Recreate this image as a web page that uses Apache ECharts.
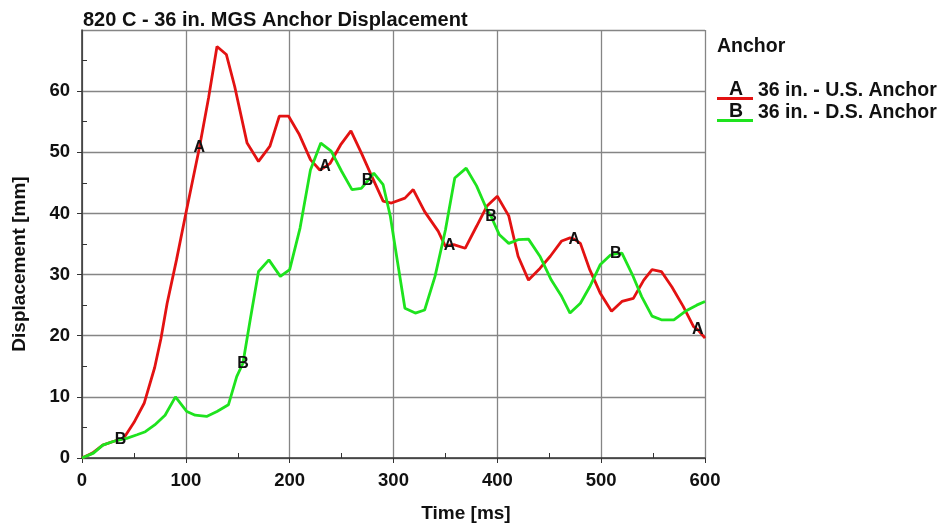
<!DOCTYPE html>
<html>
<head>
<meta charset="utf-8">
<script src="https://cdn.jsdelivr.net/npm/echarts@6/dist/echarts.min.js"></script>
<style>
  html, body { margin: 0; padding: 0; background: #fff; }
  #chart { width: 941px; height: 524px; }
</style>
</head>
<body>
<div id="chart"></div>
<script>
// Anchor displacement histories (time in ms, displacement in mm)
const timeA = [0, 10, 20, 30, 40, 50, 60, 70, 76, 82, 91, 100, 113, 122, 130, 139, 147, 159, 170, 181,
  190, 199, 209, 220, 229, 234, 239, 249, 259, 269, 279, 290, 298, 311, 319, 330, 343, 350, 354, 358,
  369, 380, 390, 400, 411, 420, 430, 441, 451, 462, 470, 474, 480, 489, 499, 510, 520, 531, 541, 549,
  558, 568, 579, 589, 593, 600];
const dispA = [0, 0.8, 2.1, 2.7, 3.2, 5.8, 9.0, 14.8, 19.5, 25.3, 32.4, 40.0, 50.7, 59.0, 67.3, 66.0, 60.8, 51.5, 48.5, 51.0,
  55.9, 55.9, 53.0, 48.8, 47.1, 47.6, 48.2, 51.2, 53.5, 49.9, 46.1, 42.0, 41.7, 42.5, 43.9, 40.3, 37.1, 34.6, 34.8, 34.9,
  34.3, 37.9, 41.2, 42.8, 39.6, 33.0, 29.1, 31.0, 33.0, 35.5, 36.0, 35.8, 35.1, 30.8, 27.0, 24.0, 25.6, 26.1, 29.1, 30.8,
  30.5, 28.0, 24.8, 21.5, 21.0, 19.6];

const timeB = [0, 11, 20, 30, 37, 43, 53, 61, 70, 80, 90, 101, 109, 120, 130, 141, 149, 155, 162, 170,
  180, 191, 200, 210, 220, 230, 240, 250, 260, 269, 275, 281, 290, 297, 303, 311, 321, 330, 340, 350,
  359, 370, 380, 390, 394, 402, 411, 420, 430, 441, 452, 462, 470, 480, 489, 499, 509, 514, 520, 530,
  539, 549, 558, 570, 581, 592, 600];
const dispB = [0, 0.8, 2.1, 2.7, 3.0, 3.2, 3.8, 4.3, 5.4, 7.0, 10.0, 7.6, 7.0, 6.8, 7.6, 8.7, 13.3, 15.5, 22.6, 30.5,
  32.4, 29.7, 30.8, 37.6, 47.1, 51.5, 50.2, 46.9, 43.9, 44.1, 45.3, 46.6, 44.7, 39.5, 33.0, 24.5, 23.7, 24.2, 29.7, 37.3,
  45.8, 47.4, 44.5, 40.6, 39.5, 36.5, 35.1, 35.7, 35.8, 33.0, 29.1, 26.4, 23.7, 25.3, 28.0, 31.6, 33.2, 33.4, 33.5, 30.0,
  26.4, 23.2, 22.6, 22.6, 24.0, 25.0, 25.6];

// Times at which the curve letters are placed
const letterTimesA = [113, 234, 354, 474, 593];
const letterTimesB = [37, 155, 275, 394, 514];

const seriesNames = ['36 in. - U.S. Anchor', '36 in. - D.S. Anchor'];
const seriesLetters = ['A', 'B'];
const seriesColors = ['#e31212', '#1ee31e'];

// Axis ranges
const X_MIN = 0, X_MAX = 600, X_STEP = 100;
const Y_MIN = 0, Y_MAX = 70, Y_STEP = 10;

const FONT = '"Liberation Sans", Arial, sans-serif';
const INK = '#111';
const AXIS_INK = '#333';
const GRID_INK = '#858585';

function pairs(t, v) { return t.map((x, i) => [x, v[i]]); }
function letterPoints(times, t, v, letter) {
  return times.map(x => ({ coord: [x, v[t.indexOf(x)]], value: letter }));
}
function letterMarks(points) {
  return {
    silent: true,
    symbol: 'circle',
    symbolSize: 1,
    itemStyle: { color: 'rgba(0,0,0,0)' },
    label: {
      show: true, position: 'inside', formatter: p => p.value,
      color: INK, fontFamily: FONT, fontWeight: 'bold', fontSize: 16
    },
    data: points
  };
}

const labelStyle = { fontFamily: FONT, fontWeight: 'bold', fontSize: 18.5, color: INK };

// Overlay axes carrying only the small inward minor ticks
function minorOnly(min, max, step, position) {
  return {
    type: 'value', min, max, interval: step, position,
    axisLine: { show: false },
    axisTick: { show: false, inside: true },
    minorTick: { show: true, splitNumber: 2, length: 5, lineStyle: { color: AXIS_INK, width: 1 } },
    axisLabel: { show: false },
    splitLine: { show: false }
  };
}

const chart = echarts.init(document.getElementById('chart'), null, { renderer: 'canvas' });
chart.setOption({
  animation: false,
  backgroundColor: '#fff',
  title: [
    { text: '820 C - 36 in. MGS Anchor Displacement', left: 78, top: 5,
      textStyle: { fontFamily: FONT, fontWeight: 'bold', fontSize: 20, color: INK } },
    { text: 'Anchor', left: 712, top: 32,
      textStyle: { fontFamily: FONT, fontWeight: 'bold', fontSize: 19.5, color: INK } }
  ],
  legend: {
    orient: 'vertical', left: 712, top: 76, itemGap: 2,
    itemWidth: 36, itemHeight: 18,
    icon: 'path://M0,0 M0,15 L36,15 L36,18 L0,18 Z',
    textStyle: { fontFamily: FONT, fontWeight: 'bold', fontSize: 19.5, color: INK },
    data: seriesNames
  },
  graphic: seriesLetters.map((l, i) => ({
    type: 'text', x: 736, y: 90 + i * 22,
    style: { text: l, font: 'bold 19.5px ' + FONT, fill: INK, align: 'center', verticalAlign: 'middle' }
  })),
  grid: { left: 82, right: 236, top: 30, bottom: 66, outerBoundsMode: 'none' },
  xAxis: [
    {
      type: 'value', min: X_MIN, max: X_MAX, interval: X_STEP,
      name: 'Time [ms]', nameLocation: 'middle', nameGap: 46,
      nameTextStyle: Object.assign({}, labelStyle, { fontSize: 19, padding: [0, 0, 0, 145] }),
      axisLine: { lineStyle: { color: AXIS_INK, width: 1.5 } },
      axisTick: { show: true, inside: false, length: 5, lineStyle: { color: AXIS_INK } },
      axisLabel: Object.assign({}, labelStyle, { margin: 13 }),
      splitLine: { show: true, lineStyle: { color: GRID_INK, width: 1.3 } }
    },
    minorOnly(X_MIN, X_MAX, X_STEP, 'bottom')
  ],
  yAxis: [
    {
      type: 'value', min: Y_MIN, max: Y_MAX, interval: Y_STEP,
      name: 'Displacement [mm]', nameLocation: 'middle', nameGap: 53,
      nameTextStyle: Object.assign({}, labelStyle, { fontSize: 19, padding: [0, 40, 0, 0] }),
      axisLine: { show: true, lineStyle: { color: AXIS_INK, width: 1.5 } },
      axisTick: { show: true, inside: false, length: 5, lineStyle: { color: AXIS_INK } },
      axisLabel: Object.assign({}, labelStyle, { margin: 12, showMaxLabel: false }),
      splitLine: { show: true, lineStyle: { color: GRID_INK, width: 1.3 } }
    },
    minorOnly(Y_MIN, Y_MAX, Y_STEP, 'left')
  ],
  series: [
    {
      name: seriesNames[0], type: 'line', data: pairs(timeA, dispA),
      showSymbol: false, symbol: 'none', color: seriesColors[0],
      lineStyle: { width: 2.8, color: seriesColors[0] },
      markPoint: letterMarks(letterPoints(letterTimesA, timeA, dispA, seriesLetters[0]))
    },
    {
      name: seriesNames[1], type: 'line', data: pairs(timeB, dispB),
      showSymbol: false, symbol: 'none', color: seriesColors[1],
      lineStyle: { width: 2.8, color: seriesColors[1] },
      markPoint: letterMarks(letterPoints(letterTimesB, timeB, dispB, seriesLetters[1]))
    }
  ]
});
</script>
</body>
</html>
